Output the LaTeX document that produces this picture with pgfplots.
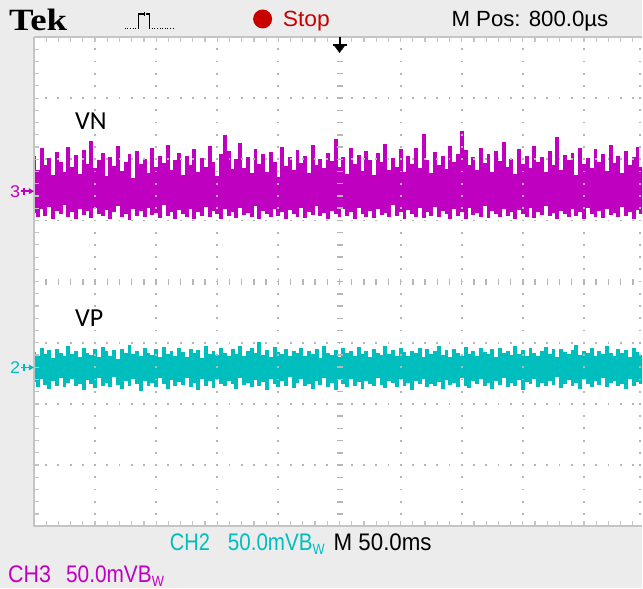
\documentclass[border=0pt]{standalone}
\usepackage{pgfplots}
\pgfplotsset{compat=1.18}
\usepackage{pgfplotstable}
\usepackage{graphicx}
\usepackage{fontspec}
\setmainfont{Liberation Sans}
\newfontfamily\tekfont{Liberation Serif}
\newfontfamily\carlito{Carlito}
\definecolor{bg}{RGB}{236,236,236}
\definecolor{grat}{RGB}{196,196,196}
\definecolor{dotc}{RGB}{182,182,182}
\definecolor{vncol}{RGB}{192,0,192}
\definecolor{vpcol}{RGB}{0,190,190}
\definecolor{tekred}{RGB}{200,0,0}

\pgfplotstableread[row sep=\\]{
x hi lo\\
0 6.05 5.12\\ 1 5.82 5.05\\ 2 6.18 5.18\\ 3 5.90 5.08\\ 4 6.02 5.22\\ 5 5.74 5.03\\ 6 6.12 5.15\\ 7 5.95 5.10\\ 8 5.80 5.25\\ 9 6.20 5.06\\
10 5.88 5.14\\ 11 6.07 5.02\\ 12 5.76 5.19\\ 13 6.15 5.09\\ 14 5.93 5.16\\ 15 6.30 5.04\\ 16 5.85 5.21\\ 17 5.98 5.11\\ 18 6.10 5.07\\ 19 5.72 5.17\\
20 6.03 5.03\\ 21 5.89 5.13\\ 22 6.22 5.24\\ 23 5.81 5.06\\ 24 5.96 5.10\\ 25 6.08 5.01\\ 26 5.70 5.18\\ 27 6.14 5.08\\ 28 5.92 5.15\\ 29 6.01 5.05\\
30 5.78 5.20\\ 31 6.19 5.09\\ 32 5.87 5.12\\ 33 6.05 5.04\\ 34 5.94 5.26\\ 35 6.24 5.07\\ 36 5.83 5.14\\ 37 5.99 5.02\\ 38 6.11 5.17\\ 39 5.75 5.10\\
40 6.06 5.06\\ 41 5.91 5.19\\ 42 6.16 5.03\\ 43 5.79 5.13\\ 44 6.02 5.08\\ 45 5.88 5.22\\ 46 6.21 5.05\\ 47 5.95 5.16\\ 48 5.73 5.11\\ 49 6.09 5.02\\
50 6.40 5.18\\ 51 6.13 5.07\\ 52 5.84 5.14\\ 53 6.00 5.04\\ 54 6.27 5.21\\ 55 5.86 5.09\\ 56 6.04 5.12\\ 57 5.77 5.06\\ 58 6.17 5.23\\ 59 5.93 5.03\\
60 6.08 5.15\\ 61 5.80 5.10\\ 62 6.12 5.05\\ 63 5.96 5.19\\ 64 5.71 5.08\\ 65 6.20 5.13\\ 66 5.89 5.02\\ 67 6.03 5.17\\ 68 5.82 5.11\\ 69 6.15 5.06\\
70 5.94 5.20\\ 71 6.06 5.04\\ 72 5.78 5.14\\ 73 6.23 5.09\\ 74 5.90 5.24\\ 75 6.01 5.07\\ 76 5.85 5.12\\ 77 6.11 5.03\\ 78 5.97 5.16\\ 79 6.33 5.10\\
80 5.87 5.05\\ 81 6.04 5.18\\ 82 5.76 5.08\\ 83 6.18 5.13\\ 84 5.92 5.02\\ 85 6.07 5.21\\ 86 5.81 5.11\\ 87 6.13 5.06\\ 88 5.99 5.15\\ 89 5.74 5.04\\
90 6.10 5.19\\ 91 5.95 5.09\\ 92 6.25 5.12\\ 93 5.83 5.05\\ 94 6.02 5.25\\ 95 5.88 5.07\\ 96 6.16 5.14\\ 97 5.79 5.03\\ 98 6.06 5.17\\ 99 5.93 5.10\\
100 6.19 5.06\\ 101 5.86 5.20\\ 102 6.41 5.04\\ 103 5.98 5.13\\ 104 5.77 5.08\\ 105 6.12 5.22\\ 106 5.90 5.05\\ 107 6.05 5.16\\ 108 5.84 5.11\\ 109 6.21 5.03\\
110 5.96 5.18\\ 111 6.08 5.07\\ 112 6.46 5.14\\ 113 6.15 5.02\\ 114 5.91 5.21\\ 115 6.03 5.09\\ 116 5.82 5.12\\ 117 6.18 5.06\\ 118 5.94 5.24\\ 119 6.09 5.04\\
120 5.80 5.15\\ 121 6.14 5.10\\ 122 5.97 5.05\\ 123 6.29 5.19\\ 124 5.87 5.08\\ 125 6.01 5.13\\ 126 5.76 5.03\\ 127 6.17 5.17\\ 128 5.93 5.11\\ 129 6.06 5.06\\
130 5.85 5.20\\ 131 6.22 5.04\\ 132 5.95 5.14\\ 133 6.04 5.09\\ 134 5.79 5.23\\ 135 6.13 5.07\\ 136 5.90 5.12\\ 137 6.36 5.02\\ 138 5.83 5.16\\ 139 6.07 5.10\\
140 5.98 5.05\\ 141 6.11 5.18\\ 142 5.75 5.08\\ 143 6.19 5.13\\ 144 5.92 5.03\\ 145 6.02 5.21\\ 146 5.86 5.11\\ 147 6.16 5.06\\ 148 5.96 5.15\\ 149 6.08 5.04\\
150 5.81 5.19\\ 151 6.24 5.09\\ 152 5.94 5.12\\ 153 6.05 5.05\\ 154 5.78 5.22\\ 155 6.14 5.07\\ 156 5.91 5.14\\ 157 6.03 5.03\\ 158 6.20 5.17\\ 159 5.88 5.10\\ 160 6.00 5.08\\
}\vndata

\pgfplotstableread[row sep=\\]{
x hi lo\\
0 2.85 2.36\\ 1 2.78 2.28\\ 2 2.92 2.41\\ 3 2.81 2.31\\ 4 2.88 2.25\\ 5 2.75 2.38\\ 6 2.90 2.30\\ 7 2.83 2.43\\ 8 2.79 2.27\\ 9 2.94 2.34\\
10 2.82 2.40\\ 11 2.87 2.29\\ 12 2.76 2.33\\ 13 2.91 2.22\\ 14 2.84 2.39\\ 15 2.80 2.32\\ 16 2.89 2.26\\ 17 2.77 2.42\\ 18 2.93 2.30\\ 19 2.86 2.35\\
20 2.79 2.28\\ 21 2.88 2.44\\ 22 2.74 2.31\\ 23 2.90 2.24\\ 24 2.83 2.37\\ 25 2.96 2.29\\ 26 2.81 2.41\\ 27 2.87 2.33\\ 28 2.78 2.21\\ 29 2.92 2.38\\
30 2.84 2.30\\ 31 2.80 2.35\\ 32 2.89 2.27\\ 33 2.76 2.42\\ 34 2.93 2.32\\ 35 2.82 2.25\\ 36 2.86 2.39\\ 37 2.79 2.29\\ 38 2.91 2.36\\ 39 2.85 2.31\\
40 2.77 2.43\\ 41 2.90 2.28\\ 42 2.83 2.34\\ 43 2.88 2.23\\ 44 2.75 2.40\\ 45 2.94 2.30\\ 46 2.81 2.37\\ 47 2.87 2.26\\ 48 2.80 2.41\\ 49 2.92 2.32\\
50 2.84 2.29\\ 51 2.78 2.38\\ 52 2.89 2.33\\ 53 2.82 2.24\\ 54 2.95 2.42\\ 55 2.79 2.31\\ 56 2.86 2.35\\ 57 2.91 2.27\\ 58 2.83 2.39\\ 59 3.02 2.30\\
60 2.80 2.36\\ 61 2.88 2.22\\ 62 2.76 2.41\\ 63 2.93 2.32\\ 64 2.85 2.28\\ 65 2.81 2.38\\ 66 2.90 2.30\\ 67 2.78 2.44\\ 68 2.87 2.26\\ 69 2.83 2.34\\
70 2.92 2.40\\ 71 2.79 2.29\\ 72 2.86 2.33\\ 73 2.82 2.25\\ 74 2.89 2.37\\ 75 2.75 2.31\\ 76 2.94 2.42\\ 77 2.84 2.28\\ 78 2.80 2.35\\ 79 2.88 2.23\\
80 2.77 2.39\\ 81 2.91 2.32\\ 82 2.83 2.27\\ 83 2.87 2.41\\ 84 2.79 2.30\\ 85 2.93 2.36\\ 86 2.81 2.24\\ 87 2.86 2.38\\ 88 2.76 2.33\\ 89 2.90 2.29\\
90 2.84 2.43\\ 91 2.80 2.31\\ 92 2.95 2.26\\ 93 2.82 2.37\\ 94 2.88 2.34\\ 95 2.78 2.28\\ 96 2.91 2.40\\ 97 2.85 2.30\\ 98 2.79 2.35\\ 99 2.87 2.22\\
100 2.83 2.38\\ 101 2.92 2.32\\ 102 2.77 2.41\\ 103 2.89 2.27\\ 104 2.81 2.33\\ 105 2.86 2.29\\ 106 2.94 2.36\\ 107 2.80 2.24\\ 108 2.88 2.39\\ 109 2.76 2.31\\
110 2.90 2.35\\ 111 2.84 2.28\\ 112 2.79 2.42\\ 113 2.93 2.30\\ 114 2.82 2.26\\ 115 2.87 2.37\\ 116 2.78 2.33\\ 117 2.91 2.40\\ 118 2.85 2.29\\ 119 2.81 2.34\\
120 2.89 2.25\\ 121 2.76 2.38\\ 122 2.92 2.31\\ 123 2.83 2.43\\ 124 2.87 2.28\\ 125 2.80 2.35\\ 126 2.95 2.30\\ 127 2.82 2.39\\ 128 2.88 2.23\\ 129 2.78 2.36\\
130 2.91 2.32\\ 131 2.84 2.41\\ 132 2.79 2.27\\ 133 2.86 2.34\\ 134 2.93 2.29\\ 135 2.81 2.37\\ 136 2.89 2.31\\ 137 2.77 2.44\\ 138 2.90 2.26\\ 139 2.85 2.33\\
140 2.82 2.39\\ 141 2.88 2.30\\ 142 2.97 2.35\\ 143 2.80 2.24\\ 144 2.87 2.40\\ 145 2.83 2.32\\ 146 2.92 2.28\\ 147 2.78 2.37\\ 148 2.86 2.31\\ 149 2.81 2.42\\
150 2.94 2.27\\ 151 2.84 2.34\\ 152 2.79 2.38\\ 153 2.90 2.29\\ 154 2.83 2.33\\ 155 2.88 2.25\\ 156 2.76 2.41\\ 157 2.91 2.30\\ 158 2.85 2.36\\ 159 2.80 2.32\\ 160 2.87 2.35\\
}\vpdata

\newcommand{\sq}[2]{\resizebox{#1}{\height}{#2}}
\newcommand{\bw}{B\raisebox{-0.18em}{\scalebox{0.62}{W}}}

\begin{document}
\begin{tikzpicture}
\fill[bg] (0,0) rectangle (643pt,589pt);
\fill[white] (34pt,62pt) rectangle (643pt,552pt);

\begin{axis}[
  at={(34pt,62pt)}, anchor=south west,
  scale only axis, width=609pt, height=490pt,
  xmin=0, xmax=159.2, ymin=0, ymax=8,
  hide axis, clip=true]
\addplot[draw=none, mark=none, forget plot,
  error bars/.cd, y dir=plus, y explicit, error mark=none,
  error bar style={draw=vncol, line width=3.9pt, line cap=butt}]
  table[x=x, y=lo, y error plus expr=\thisrow{hi}-\thisrow{lo}] {\vndata};
\addplot[draw=none, mark=none, forget plot,
  error bars/.cd, y dir=plus, y explicit, error mark=none,
  error bar style={draw=vpcol, line width=3.9pt, line cap=butt}]
  table[x=x, y=lo, y error plus expr=\thisrow{hi}-\thisrow{lo}] {\vpdata};
\end{axis}

% graticule
\begin{scope}[shift={(34pt,62pt)}, x=61.2pt, y=61.25pt]
  \draw[grat, line width=2pt] (0,8) -- (0,0) -- (9.95,0);
  \draw[grat, line width=1.5pt] (0,8) -- (9.95,8);
  \foreach \i in {1,...,49} {
    \draw[grat, line width=1.2pt] (\i/5,0) -- ++(0,5pt);
    \draw[grat, line width=1.2pt] (\i/5,8) -- ++(0,-5pt);
  }
  \foreach \j in {1,...,39} {
    \draw[grat, line width=1.2pt] (0,\j/5) -- ++(5pt,0);
  }
  \foreach \gx in {1,2,3,4,6,7,8,9,9.92} {
    \foreach \k in {1,...,39} {
      \fill[dotc] (\gx,\k/5) ++(-0.9pt,-0.9pt) rectangle ++(1.8pt,1.8pt);
    }
  }
  \foreach \gy in {1,2,3,5,6,7} {
    \foreach \k in {1,...,49} {
      \fill[dotc] (\k/5,\gy) ++(-0.9pt,-0.9pt) rectangle ++(1.8pt,1.8pt);
    }
  }
  \foreach \k in {1,...,39} {
    \draw[dotc, line width=1.5pt] (5,\k/5) ++(-3pt,0) -- ++(6pt,0);
  }
  \foreach \k in {1,...,49} {
    \draw[dotc, line width=1.5pt] (\k/5,4) ++(0,-3pt) -- ++(0,6pt);
  }
\end{scope}

% trigger marker
\draw[black, line width=2pt] (340pt,552pt) -- (340pt,543pt);
\draw[black, line width=2pt] (333pt,544pt) -- (347pt,544pt);
\fill[black] (334pt,544pt) -- (346pt,544pt) -- (340pt,536pt) -- cycle;

% top bar
\node[anchor=base west, inner sep=0, font=\tekfont\bfseries\fontsize{31}{31}\selectfont] at (9pt,558pt) {\sq{58pt}{Tek}};
\draw[black, line width=1pt, dash pattern=on 1pt off 1.6pt] (125pt,560pt) -- (138pt,560pt);
\draw[black, line width=1.2pt] (139pt,560pt) -- (139pt,575pt) -- (144pt,575pt);
\draw[black, line width=1.2pt] (145pt,573pt) -- (145pt,577pt);
\draw[black, line width=1.2pt] (146pt,575pt) -- (150pt,575pt) -- (150pt,560pt);
\draw[black, line width=1pt, dash pattern=on 1pt off 1.6pt] (152pt,560pt) -- (174pt,560pt);
\fill[tekred] (263pt,570pt) circle (9.5pt);
\node[anchor=base west, inner sep=0, text=tekred, font=\fontsize{22}{22}\selectfont] at (283pt,562pt) {\sq{47pt}{Stop}};
\node[anchor=base west, inner sep=0, text=black, font=\fontsize{22}{22}\selectfont] at (452pt,562pt) {\sq{157pt}{M Pos: 800.0µs}};

% bottom readouts
\node[anchor=base west, inner sep=0, text=vpcol, font=\fontsize{24}{24}\selectfont] at (170pt,38pt) {\sq{40pt}{CH2}};
\node[anchor=base west, inner sep=0, text=vpcol, font=\fontsize{24}{24}\selectfont] at (228pt,38pt) {\sq{97pt}{50.0mV\bw}};
\node[anchor=base west, inner sep=0, text=black, font=\fontsize{24}{24}\selectfont] at (334pt,38pt) {\sq{98pt}{M 50.0ms}};
\node[anchor=base west, inner sep=0, text=vncol, font=\fontsize{24}{24}\selectfont] at (8pt,6pt) {\sq{43pt}{CH3}};
\node[anchor=base west, inner sep=0, text=vncol, font=\fontsize{24}{24}\selectfont] at (66pt,6pt) {\sq{98pt}{50.0mV\bw}};

% channel markers
\node[anchor=base west, inner sep=0, text=vncol, font=\fontsize{17}{17}\selectfont] at (10pt,391pt) {\sq{10pt}{3}};
\draw[vncol, line width=1.6pt] (21pt,397.5pt) -- (30pt,397.5pt);
\draw[vncol, line width=1.6pt] (24pt,394pt) -- (24pt,401pt);
\fill[vncol] (29pt,400.5pt) -- (34pt,397.5pt) -- (29pt,394.5pt) -- cycle;
\node[anchor=base west, inner sep=0, text=vpcol, font=\fontsize{17}{17}\selectfont] at (10pt,214.5pt) {\sq{10pt}{2}};
\draw[vpcol, line width=1.6pt] (21pt,221pt) -- (30pt,221pt);
\draw[vpcol, line width=1.6pt] (24pt,217.5pt) -- (24pt,224.5pt);
\fill[vpcol] (29pt,224pt) -- (34pt,221pt) -- (29pt,218pt) -- cycle;

% labels
\node[anchor=base west, inner sep=0, font=\carlito\fontsize{26}{26}\selectfont] at (75pt,459pt) {VN};
\node[anchor=base west, inner sep=0, font=\carlito\fontsize{26}{26}\selectfont] at (75pt,262pt) {VP};
\end{tikzpicture}
\end{document}
